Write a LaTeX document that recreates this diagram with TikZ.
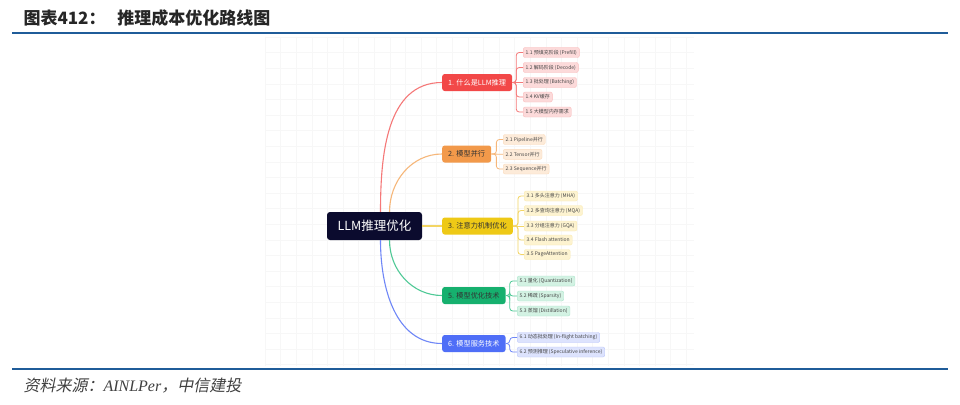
\documentclass[tikz,border=0pt]{standalone}
\usepackage{fontspec}
\newfontfamily\cjk{Noto Sans CJK SC}
\newfontfamily\cjkit[FakeSlant=0.2]{Noto Sans CJK SC}
\newfontfamily\serifit{Liberation Serif}
\usetikzlibrary{positioning}
\definecolor{rulerblue}{RGB}{31,92,153}
\definecolor{gridgray}{RGB}{247,247,247}
\definecolor{rootnavy}{RGB}{11,11,46}
\definecolor{leafgray}{RGB}{70,70,70}
\definecolor{brred}{RGB}{242,72,72}
\definecolor{lnred}{RGB}{245,120,120}
\definecolor{lfred}{RGB}{252,218,218}
\definecolor{brorange}{RGB}{242,153,74}
\definecolor{lnorange}{RGB}{246,183,122}
\definecolor{lforange}{RGB}{253,235,217}
\definecolor{bryellow}{RGB}{238,201,22}
\definecolor{lnyellow}{RGB}{243,213,100}
\definecolor{lfyellow}{RGB}{253,243,208}
\definecolor{brgreen}{RGB}{22,176,110}
\definecolor{lngreen}{RGB}{79,201,150}
\definecolor{lfgreen}{RGB}{211,242,227}
\definecolor{brblue}{RGB}{79,110,247}
\definecolor{lnblue}{RGB}{111,135,247}
\definecolor{lfblue}{RGB}{221,227,253}

\begin{document}
\begin{tikzpicture}[x=1pt, y=-1pt,
  font=\cjk,
  root/.style={fill=rootnavy, text=white, rounded corners=3pt, minimum width=95pt, minimum height=28pt, inner sep=0pt, font=\cjk\fontsize{12.5}{14}\selectfont},
  branch/.style={anchor=west, rounded corners=2.5pt, minimum height=17pt, inner xsep=6pt, inner ysep=0pt, font=\cjk\fontsize{7.2}{8}\selectfont},
  leaf/.style={anchor=west, rounded corners=2pt, minimum height=10pt, inner xsep=2.5pt, inner ysep=0pt, text=leafgray, font=\cjk\fontsize{5}{6}\selectfont},
  curve/.style={line width=1.1pt},
  twig/.style={line width=0.8pt, rounded corners=3pt},
  gridline/.style={gridgray, line width=0.5pt}
]
\useasboundingbox[fill=white] (0,0) rectangle (960,404);

% faint grid behind the map
\foreach \gx in {265,280.6,...,695} \draw[gridline] (\gx,37) -- (\gx,366);
\foreach \gy in {37,52.6,...,366} \draw[gridline] (265,\gy) -- (694,\gy);

% heading and rules
\node[anchor=west, text=black!85, font=\cjk\bfseries\fontsize{17}{19}\selectfont] (title) at (20,18) {图表412：\hspace{0.7em}推理成本优化路线图};
\draw[rulerblue, line width=2pt] (12,33) -- (948,33);
\draw[rulerblue, line width=1.4pt] (12,369) -- (948,369);
\node[anchor=west, text=black!75, font=\fontsize{16}{18}\selectfont] (source) at (20,386) {{\cjkit 资料来源：}{\serifit\itshape AINLPer}{\cjkit ，中信建投}};

% root and branches
\node[root] (root) at (374.5,226) {LLM推理优化};
\node[branch, fill=brred, text=white] (b1) at (442,82.5) {1. 什么是LLM推理};
\node[branch, fill=brorange, text=black!80] (b2) at (442,154) {2. 模型并行};
\node[branch, fill=bryellow, text=black!80] (b3) at (442,226) {3. 注意力机制优化};
\node[branch, fill=brgreen, text=black!80] (b5) at (442,295.5) {5. 模型优化技术};
\node[branch, fill=brblue, text=white] (b6) at (442,343.5) {6. 模型服务技术};

% leaves
\node[leaf, fill=lfred, draw=lfred!70!lnred] (l11) at (523,52.5) {1.1 预填充阶段 (Prefill)};
\node[leaf, fill=lfred, draw=lfred!70!lnred] (l12) at (523,67.5) {1.2 解码阶段 (Decode)};
\node[leaf, fill=lfred, draw=lfred!70!lnred] (l13) at (523,82.5) {1.3 批处理 (Batching)};
\node[leaf, fill=lfred, draw=lfred!70!lnred] (l14) at (523,97) {1.4 KV缓存};
\node[leaf, fill=lfred, draw=lfred!70!lnred] (l15) at (523,112) {1.5 大模型内存需求};

\node[leaf, fill=lforange, draw=lforange!70!lnorange] (l21) at (503,139.5) {2.1 Pipeline并行};
\node[leaf, fill=lforange, draw=lforange!70!lnorange] (l22) at (503,154.3) {2.2 Tensor并行};
\node[leaf, fill=lforange, draw=lforange!70!lnorange] (l23) at (503,169) {2.3 Sequence并行};

\node[leaf, fill=lfyellow, draw=lfyellow!70!lnyellow] (l31) at (524,196) {3.1 多头注意力 (MHA)};
\node[leaf, fill=lfyellow, draw=lfyellow!70!lnyellow] (l32) at (524,210.5) {3.2 多查询注意力 (MQA)};
\node[leaf, fill=lfyellow, draw=lfyellow!70!lnyellow] (l33) at (524,226) {3.3 分组注意力 (GQA)};
\node[leaf, fill=lfyellow, draw=lfyellow!70!lnyellow] (l34) at (524,240) {3.4 Flash attention};
\node[leaf, fill=lfyellow, draw=lfyellow!70!lnyellow] (l35) at (524,254.5) {3.5 PageAttention};

\node[leaf, fill=lfgreen, draw=lfgreen!70!lngreen] (l51) at (517,281) {5.1 量化 (Quantization)};
\node[leaf, fill=lfgreen, draw=lfgreen!70!lngreen] (l52) at (517,296) {5.2 稀疏 (Sparsity)};
\node[leaf, fill=lfgreen, draw=lfgreen!70!lngreen] (l53) at (517,311) {5.3 蒸馏 (Distillation)};

\node[leaf, fill=lfblue, draw=lfblue!70!lnblue] (l61) at (517,337.5) {6.1 动态批处理 (In-flight batching)};
\node[leaf, fill=lfblue, draw=lfblue!70!lnblue] (l62) at (517,352) {6.2 预测推理 (Speculative inference)};

% root to branches
\draw[curve, lnred] ([xshift=6pt]root.north) to[out=90, in=180] (b1.west);
\draw[curve, lnorange] ([xshift=15pt]root.north) to[out=90, in=180] (b2.west);
\draw[curve, lnyellow] (root.east) -- (b3.west);
\draw[curve, lngreen] ([xshift=15pt]root.south) to[out=-90, in=180] (b5.west);
\draw[curve, lnblue] ([xshift=6pt]root.south) to[out=-90, in=180] (b6.west);

% branches to leaves
\draw[twig, lnred] (b1.east) -- ++(4,0) |- (l11.west);
\draw[twig, lnred] (b1.east) -- ++(4,0) |- (l12.west);
\draw[twig, lnred] (b1.east) -- (l13.west);
\draw[twig, lnred] (b1.east) -- ++(4,0) |- (l14.west);
\draw[twig, lnred] (b1.east) -- ++(4,0) |- (l15.west);

\draw[twig, lnorange] (b2.east) -- ++(5,0) |- (l21.west);
\draw[twig, lnorange] (b2.east) -- (l22.west);
\draw[twig, lnorange] (b2.east) -- ++(5,0) |- (l23.west);

\draw[twig, lnyellow] (b3.east) -- ++(5,0) |- (l31.west);
\draw[twig, lnyellow] (b3.east) -- ++(5,0) |- (l32.west);
\draw[twig, lnyellow] (b3.east) -- (l33.west);
\draw[twig, lnyellow] (b3.east) -- ++(5,0) |- (l34.west);
\draw[twig, lnyellow] (b3.east) -- ++(5,0) |- (l35.west);

\draw[twig, lngreen] (b5.east) -- ++(4,0) |- (l51.west);
\draw[twig, lngreen] (b5.east) -- ++(4,0) |- (l52.west);
\draw[twig, lngreen] (b5.east) -- ++(4,0) |- (l53.west);

\draw[twig, lnblue] (b6.east) -- ++(4,0) |- (l61.west);
\draw[twig, lnblue] (b6.east) -- ++(4,0) |- (l62.west);
\end{tikzpicture}
\end{document}
